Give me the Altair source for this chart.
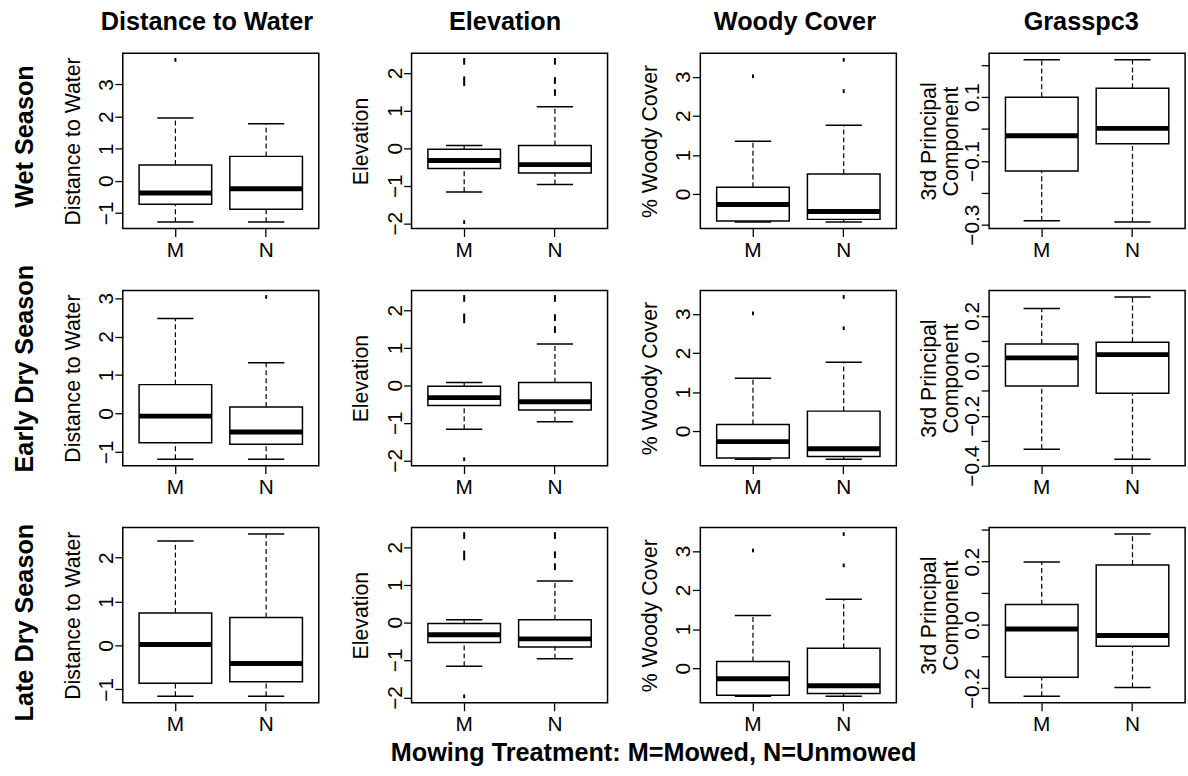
import altair as alt
import pandas as pd

groups = ["M", "N"]
row_labels = ["Wet Season", "Early Dry Season", "Late Dry Season"]
col_titles = ["Distance to Water", "Elevation", "Woody Cover", "Grasspc3"]
y_titles = ["Distance to Water", "Elevation", "% Woody Cover", ["3rd Principal", "Component"]]
x_title = "Mowing Treatment: M=Mowed, N=Unmowed"

# box statistics: lower whisker, Q1, median, Q3, upper whisker
dist_wet_M = [-1.29, -0.73, -0.38, 0.49, 1.96]
dist_wet_N = [-1.29, -0.89, -0.25, 0.76, 1.78]
dist_early_M = [-1.19, -0.76, -0.07, 0.75, 2.47]
dist_early_N = [-1.19, -0.80, -0.48, 0.17, 1.32]
dist_late_M = [-1.16, -0.86, 0.02, 0.74, 2.38]
dist_late_N = [-1.16, -0.83, -0.41, 0.64, 2.54]
elev_M = [-1.17, -0.54, -0.33, -0.03, 0.07]
elev_N = [-0.97, -0.66, -0.44, 0.07, 1.10]
woody_M = [-0.72, -0.69, -0.27, 0.17, 1.35]
woody_N = [-0.72, -0.65, -0.45, 0.51, 1.76]
grass_wet_M = [-0.288, -0.132, -0.021, 0.100, 0.217]
grass_wet_N = [-0.292, -0.046, 0.002, 0.128, 0.217]
grass_early_M = [-0.334, -0.081, 0.032, 0.088, 0.230]
grass_early_N = [-0.374, -0.110, 0.045, 0.095, 0.276]
grass_late_M = [-0.226, -0.166, -0.013, 0.064, 0.199]
grass_late_N = [-0.198, -0.068, -0.034, 0.189, 0.287]

# outlying points
dist_wet_out_M = [3.77]
dist_wet_out_N = []
dist_early_out_M = []
dist_early_out_N = [3.03]
dist_late_out_M = []
dist_late_out_N = []
elev_out_M = [-1.97, 1.70, 1.78, 1.86, 2.27, 2.35]
elev_out_N = [1.44, 1.52, 1.76, 1.84, 2.27, 2.35]
woody_out_M = [3.01]
woody_out_N = [2.63, 3.43]
grass_out_M = []
grass_out_N = []

# axis ticks and the tick labels that are printed
dist_ticks_wet = [-1, 0, 1, 2, 3]
dist_ticks_early = [-1, 0, 1, 2, 3]
dist_ticks_late = [-1, 0, 1, 2]
elev_ticks = [-2, -1, 0, 1, 2]
woody_ticks = [0, 1, 2, 3]
grass_ticks_wet = [-0.3, -0.2, -0.1, 0.0, 0.1, 0.2]
grass_labels_wet = [-0.3, -0.1, 0.1]
grass_ticks_early = [-0.4, -0.3, -0.2, -0.1, 0.0, 0.1, 0.2]
grass_labels_early = [-0.4, -0.2, 0.0, 0.2]
grass_ticks_late = [-0.2, -0.1, 0.0, 0.1, 0.2, 0.3]
grass_labels_late = [-0.2, 0.0, 0.2]

panels = [
    [(dist_wet_M, dist_wet_N, dist_wet_out_M, dist_wet_out_N, dist_ticks_wet, None, "d"),
     (elev_M, elev_N, elev_out_M, elev_out_N, elev_ticks, None, "d"),
     (woody_M, woody_N, woody_out_M, woody_out_N, woody_ticks, None, "d"),
     (grass_wet_M, grass_wet_N, grass_out_M, grass_out_N, grass_ticks_wet, grass_labels_wet, ".1f")],
    [(dist_early_M, dist_early_N, dist_early_out_M, dist_early_out_N, dist_ticks_early, None, "d"),
     (elev_M, elev_N, elev_out_M, elev_out_N, elev_ticks, None, "d"),
     (woody_M, woody_N, woody_out_M, woody_out_N, woody_ticks, None, "d"),
     (grass_early_M, grass_early_N, grass_out_M, grass_out_N, grass_ticks_early, grass_labels_early, ".1f")],
    [(dist_late_M, dist_late_N, dist_late_out_M, dist_late_out_N, dist_ticks_late, None, "d"),
     (elev_M, elev_N, elev_out_M, elev_out_N, elev_ticks, None, "d"),
     (woody_M, woody_N, woody_out_M, woody_out_N, woody_ticks, None, "d"),
     (grass_late_M, grass_late_N, grass_out_M, grass_out_N, grass_ticks_late, grass_labels_late, ".1f")],
]

FONT = "Liberation Sans"
INK = "#000000"
W, H = 198, 177
STEP = W / 2.16
BOX = 0.8 * STEP
CAP = 0.4 * STEP
title_dx = [-14, -4.5, -3.5, -6]
row_label_y = [84, 79, 96]


def make_panel(r, c):
    sM, sN, oM, oN, ticks, shown, fmt = panels[r][c]
    df = pd.DataFrame({
        "g": groups,
        "lo": [sM[0], sN[0]], "q1": [sM[1], sN[1]], "med": [sM[2], sN[2]],
        "q3": [sM[3], sN[3]], "hi": [sM[4], sN[4]],
    })
    out = pd.DataFrame({"g": ["M"] * len(oM) + ["N"] * len(oN), "v": list(oM) + list(oN)})
    allv = list(sM) + list(sN) + list(oM) + list(oN)
    lo_d, hi_d = min(allv), max(allv)
    ext = 0.04 * (hi_d - lo_d)
    yscale = alt.Scale(domain=[lo_d - ext, hi_d + ext], nice=False, zero=False)
    axis_kw = dict(values=ticks, format=fmt, title=y_titles[c], labelAngle=270,
                   labelAlign="center", labelBaseline="alphabetic", labelPadding=2.5,
                   tickSize=8, labelOverlap=False, labelFlush=False,
                   titleAngle=270, titleAlign="center", titleBaseline="middle",
                   titleX=-50 if c < 3 else -60, titleY=H / 2, titleLineHeight=22)
    if shown is not None:
        axis_kw["labelExpr"] = "indexof([" + ",".join(repr(v) for v in shown) + "], datum.value) >= 0 ? datum.label : ''"
    yaxis = alt.Axis(**axis_kw)
    xenc = alt.X("g:N", title=None,
                 scale=alt.Scale(type="band", paddingInner=0.2, paddingOuter=0.18),
                 axis=alt.Axis(labelAngle=0, tickSize=8, labelPadding=20,
                               labelBaseline="alphabetic", labelFontSize=21))

    def Y(f):
        return alt.Y(f + ":Q", scale=yscale, axis=yaxis)

    base = alt.Chart(df)
    dash = dict(strokeDash=[5, 3], strokeWidth=1.2, color=INK, opacity=1)
    tick = dict(orient="horizontal", color=INK, opacity=1)
    layers = [
        base.mark_rule(**dash).encode(x=xenc, y=Y("q3"), y2="hi:Q"),
        base.mark_rule(**dash).encode(x=xenc, y=Y("lo"), y2="q1:Q"),
        base.mark_tick(size=CAP, thickness=1.5, **tick).encode(x=xenc, y=Y("hi")),
        base.mark_tick(size=CAP, thickness=1.5, **tick).encode(x=xenc, y=Y("lo")),
        base.mark_bar(fill="white", stroke=INK, strokeWidth=1.5, opacity=1).encode(x=xenc, y=Y("q1"), y2="q3:Q"),
        base.mark_tick(size=BOX, thickness=5, **tick).encode(x=xenc, y=Y("med")),
    ]
    if len(out):
        layers.append(
            alt.Chart(out).mark_point(shape="M0,-1L0,1", size=14, strokeWidth=2,
                                      filled=False, color=INK, opacity=1)
            .encode(x=xenc, y=Y("v"))
        )
    if r == 0:
        layers.append(
            alt.Chart(pd.DataFrame({"t": [col_titles[c]]}))
            .mark_text(font=FONT, fontSize=25.5, fontWeight="bold", color=INK,
                       align="center", baseline="alphabetic")
            .encode(text="t:N", x=alt.value(W / 2 + title_dx[c]), y=alt.value(-23.7))
        )
    if c == 0:
        layers.append(
            alt.Chart(pd.DataFrame({"t": [row_labels[r]]}))
            .mark_text(font=FONT, fontSize=25.5, fontWeight="bold", color=INK,
                       align="center", baseline="middle", angle=270)
            .encode(text="t:N", x=alt.value(-98.5), y=alt.value(row_label_y[r]))
        )
    if r == 2 and c == 1:
        layers.append(
            alt.Chart(pd.DataFrame({"t": [x_title]}))
            .mark_text(font=FONT, fontSize=25.5, fontWeight="bold", color=INK,
                       align="center", baseline="alphabetic")
            .encode(text="t:N", x=alt.value(244.5), y=alt.value(235.7))
        )
    return alt.layer(*layers).properties(width=W, height=H)


charts = [make_panel(r, c) for r in range(3) for c in range(4)]

chart = (
    alt.concat(*charts, columns=4, spacing={"row": 62.5, "column": 93.7}, bounds="flush")
    .properties(padding={"left": 12, "top": 5, "right": 2, "bottom": 2}, background="white")
    .configure_view(stroke=INK, strokeWidth=1.5)
    .configure_axis(labelFont=FONT, titleFont=FONT, labelColor=INK, titleColor=INK,
                    tickColor=INK, tickWidth=1.3, domain=False, grid=False,
                    labelFontSize=21, titleFontSize=21.5, titleFontWeight="normal")
)

chart.save("out.html", embed_options={"renderer": "svg", "actions": False})
